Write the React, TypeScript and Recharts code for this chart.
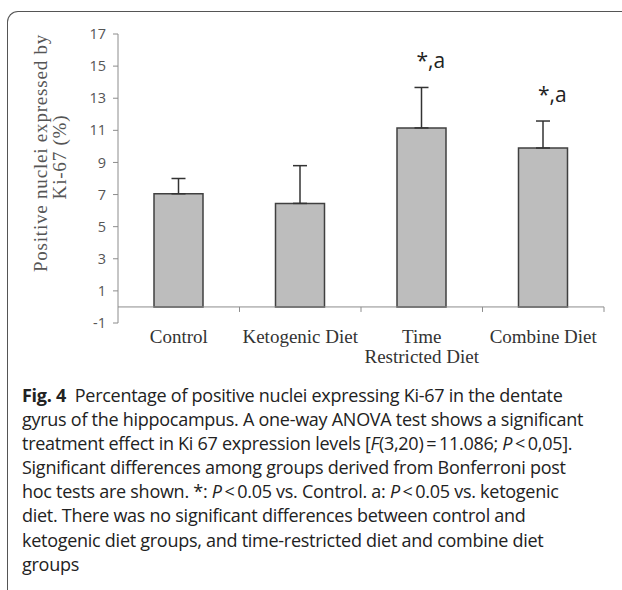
import React from 'react';
import {
  ComposedChart, Bar, Scatter, XAxis, YAxis, ErrorBar, ReferenceLine,
} from 'recharts';

const categories = ['Control', 'Ketogenic Diet', 'Time Restricted Diet', 'Combine Diet'];
const tickLines = [['Control'], ['Ketogenic Diet'], ['Time', 'Restricted Diet'], ['Combine Diet']];
const means = [7.05, 6.45, 11.15, 9.9];
const errors = [0.95, 2.35, 2.52, 1.68];
const marks = ['', '', '*,a', '*,a'];
const yTicks = [-1, 1, 3, 5, 7, 9, 11, 13, 15, 17];

const captionLines: React.ReactNode[] = [
  <><b style={{ fontWeight: 700 }}>Fig. 4</b>{'\u2002'}Percentage of positive nuclei expressing Ki-67 in the dentate</>,
  <>gyrus of the hippocampus. A one-way ANOVA test shows a significant</>,
  <>treatment effect in Ki 67 expression levels [<i>F</i>(3,20){'\u2009'}={'\u2009'}11.086; <i>P</i>{'\u2009'}&lt;{'\u2009'}0,05].</>,
  <>Significant differences among groups derived from Bonferroni post</>,
  <>hoc tests are shown. *: <i>P</i>{'\u2009'}&lt;{'\u2009'}0.05 vs. Control. a: <i>P</i>{'\u2009'}&lt;{'\u2009'}0.05 vs. ketogenic</>,
  <>diet. There was no significant differences between control and</>,
  <>ketogenic diet groups, and time-restricted diet and combine diet</>,
  <>groups</>,
];

const data = categories.map((name, i) => ({
  name,
  mean: means[i],
  err: [0, errors[i]],
  mark: marks[i],
  markY: marks[i] ? means[i] + errors[i] : null,
}));

const CHART_W = 622;
const CHART_H = 372;
const PLOT_TOP = 34;
const PLOT_H = 289;
const PLOT_LEFT = 118;
const PLOT_RIGHT = 604;
const HALF_BAND = (PLOT_RIGHT - PLOT_LEFT) / categories.length / 2;

const serif = '"Liberation Serif", "Times New Roman", serif';
const sans = '"Open Sans", "Noto Sans", sans-serif';

const CategoryTick = (props: any) => {
  const { x, y, index } = props;
  const zeroY = y - PLOT_H / 18;
  const lines = tickLines[index] || [];
  return (
    <g>
      <line x1={x + HALF_BAND} x2={x + HALF_BAND} y1={zeroY} y2={zeroY + 5} stroke="#8c8c8c" strokeWidth={1} />
      {lines.map((t, k) => (
        <text key={k} x={x} y={y + 20 + k * 20} textAnchor="middle" fill="#333" fontSize={19} fontFamily={serif}>
          {t}
        </text>
      ))}
    </g>
  );
};

const MarkShape = (props: any) => {
  const { cx, cy, payload } = props;
  if (!payload || !payload.mark) return <g />;
  return (
    <text x={cx + 9} y={cy - 19} textAnchor="middle" fill="#222" fontSize={21} fontFamily={sans}>
      {payload.mark}
    </text>
  );
};

const YTitle = () => (
  <g fill="#555" fontSize={19} fontFamily={serif} letterSpacing={0.8}>
    <text x={47} y={153} textAnchor="middle" transform="rotate(-90, 47, 153)">Positive nuclei expressed by</text>
    <text x={66} y={157} textAnchor="middle" transform="rotate(-90, 66, 157)">Ki-67 (%)</text>
  </g>
);

export default function App() {
  return (
    <div style={{ position: 'fixed', left: 0, top: 0, width: 622, height: 590, background: '#fff', overflow: 'hidden' }}>
      <div
        style={{
          position: 'absolute', left: 7, top: 11, width: 700, height: 700,
          borderTop: '1.5px solid #555', borderLeft: '1.5px solid #555', borderTopLeftRadius: 11,
        }}
      />
      <div style={{ position: 'absolute', left: 0, top: 0 }}>
        <ComposedChart
          width={CHART_W}
          height={CHART_H}
          data={data}
          margin={{ top: PLOT_TOP, right: CHART_W - PLOT_RIGHT, bottom: 0, left: 0 }}
        >
          <XAxis
            dataKey="name"
            axisLine={false}
            tickLine={false}
            tickSize={0}
            tickMargin={0}
            interval={0}
            height={CHART_H - PLOT_TOP - PLOT_H}
            tick={<CategoryTick />}
          />
          <YAxis
            width={PLOT_LEFT}
            domain={[-1, 17]}
            ticks={yTicks}
            interval={0}
            allowDataOverflow
            axisLine={{ stroke: '#8c8c8c' }}
            tickLine={{ stroke: '#8c8c8c' }}
            tickSize={5}
            tickMargin={7}
            tick={{ fill: '#555', fontSize: 14.5, fontFamily: sans }}
            label={{ content: () => <YTitle /> }}
          />
          <ReferenceLine y={0} stroke="#8c8c8c" strokeWidth={1} />
          <Bar dataKey="mean" fill="#bdbdbd" stroke="#404040" strokeWidth={1.5} barSize={49} isAnimationActive={false}>
            <ErrorBar dataKey="err" direction="y" width={7} stroke="#333" strokeWidth={1.5} />
          </Bar>
          <Scatter dataKey="markY" shape={<MarkShape />} isAnimationActive={false} />
        </ComposedChart>
      </div>
      <div
        style={{
          position: 'absolute', left: 22, top: 383, fontFamily: sans, fontSize: 18,
          letterSpacing: -0.27, lineHeight: '24.1px', color: '#222', whiteSpace: 'nowrap',
        }}
      >
        {captionLines.map((l, i) => (
          <div key={i}>{l}</div>
        ))}
      </div>
    </div>
  );
}
